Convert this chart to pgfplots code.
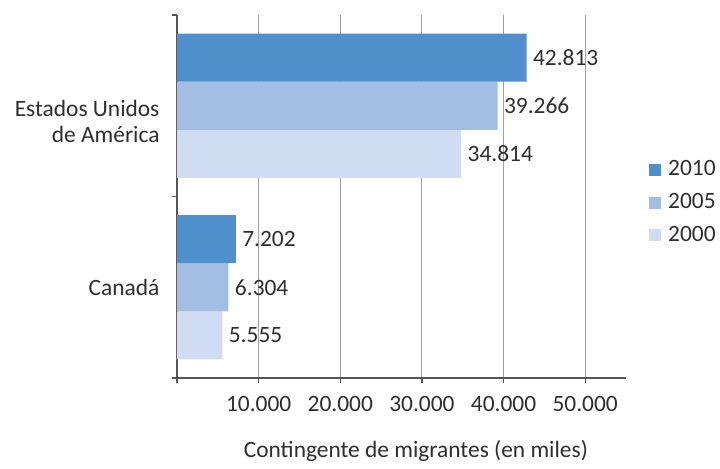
\documentclass[border=0pt]{standalone}
\usepackage{pgfplots}
\pgfplotsset{compat=1.18}
\usepackage{fontspec}
\setmainfont{Carlito}
\definecolor{c2010}{HTML}{4F8FCB}
\definecolor{c2005}{HTML}{A3BEE3}
\definecolor{c2000}{HTML}{D0DCF2}
\definecolor{txt}{HTML}{2E2E2E}
\definecolor{gridc}{HTML}{A0A0A0}
\definecolor{axc}{HTML}{555555}
\begin{document}
\begin{tikzpicture}[font=\fontsize{23.5}{26.5}\selectfont, text=txt]
\begin{axis}[
  at={(0,0)}, anchor=south west,
  scale only axis, width=449bp, height=363bp,
  xmin=0, xmax=55000, ymin=-0.5, ymax=1.5,
  scaled x ticks=false,
  axis lines*=left,
  xtick={0,10000,20000,30000,40000,50000},
  xticklabels={,10.000,20.000,30.000,40.000,50.000},
  ytick={-0.5,0.5,1.5}, yticklabels={},
  extra y ticks={0,0.915},
  extra y tick labels={Canadá,{Estados Unidos\\de América}},
  extra y tick style={major tick length=0pt, yticklabel style={align=right, xshift=-14bp}},
  tick align=outside, major tick length=5bp,
  xmajorgrids, grid style={gridc, line width=1bp},
  axis line style={axc, line width=1.2bp},
  tick style={axc, line width=1.2bp},
  xticklabel style={yshift=-10bp},
  xbar, bar width=0.265,
  point meta=x,
  nodes near coords,
  nodes near coords style={anchor=west, xshift=3bp, text=txt},
  /pgf/number format/.cd, fixed, precision=0, 1000 sep={.}, assume math mode=true, /pgfplots/.cd,
  xlabel={Contingente de migrantes (en miles)},
  xlabel style={at={(axis description cs:0.532,0)}, anchor=center, yshift=-73bp},
  legend style={at={(1,0.5)}, anchor=west, xshift=20bp, yshift=-5bp, draw=none, fill=none, row sep=12bp, text=txt},
  legend cell align=left,
  reverse legend,
  legend image code/.code={\fill[#1] (0bp,-7bp) rectangle (12bp,5bp); \path (17bp,0bp);},
]
\addplot[fill=c2000, draw=none, bar shift=-0.265] coordinates {(5555,0) (34814,1)};
\addplot[fill=c2005, draw=none, bar shift=0] coordinates {(6304,0) (39266,1)};
\addplot[fill=c2010, draw=none, bar shift=0.265] coordinates {(7202,0) (42813,1)};
\legend{2000,2005,2010}
\end{axis}
\pgfresetboundingbox
\path[use as bounding box] (-177bp,-91bp) rectangle (543bp,378bp);
\end{tikzpicture}
\end{document}
